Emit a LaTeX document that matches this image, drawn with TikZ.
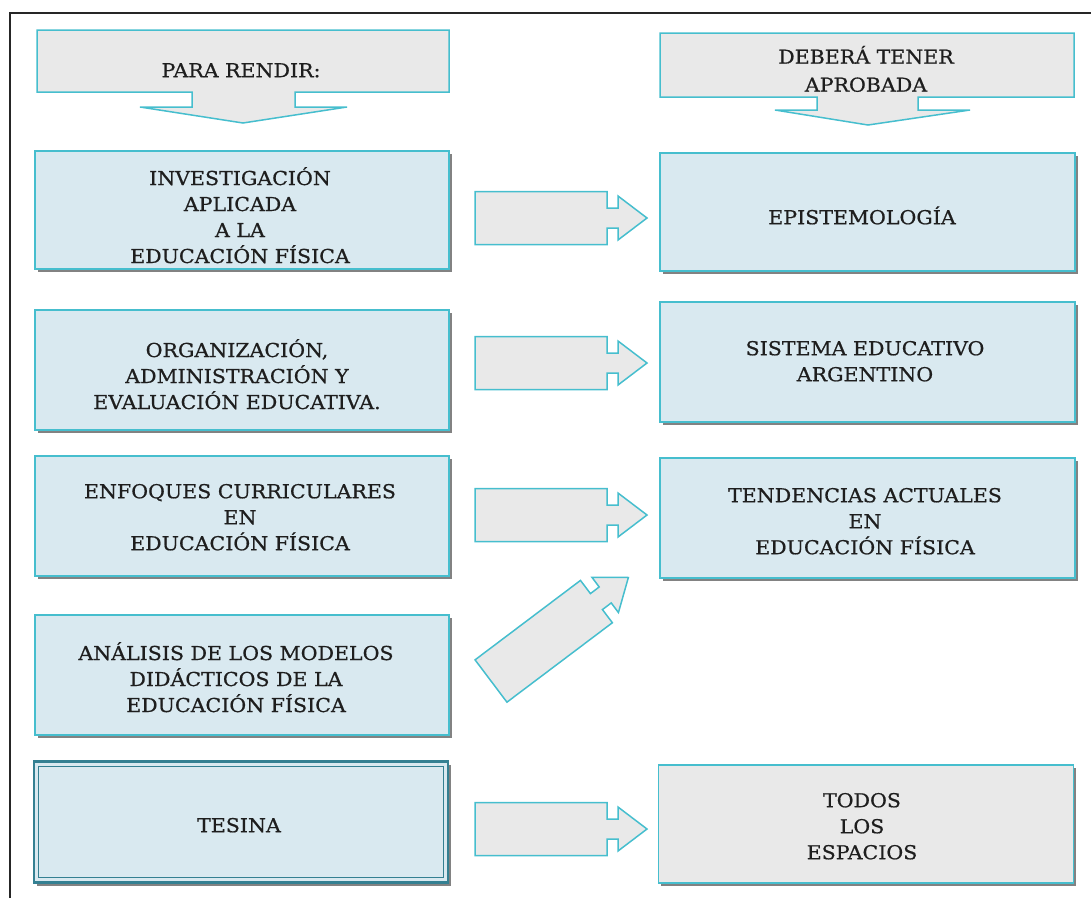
\documentclass[tikz,border=0pt]{standalone}
\usepackage{fontspec}
\setmainfont{DejaVu Serif}[FakeStretch=1.07,FakeBold=0.7]
\usetikzlibrary{shadows}
\definecolor{edge}{RGB}{70,190,206}
\definecolor{bluefill}{RGB}{217,233,240}
\definecolor{grayfill}{RGB}{233,233,233}
\definecolor{shade}{RGB}{130,130,130}
\definecolor{ink}{RGB}{30,30,30}
\definecolor{tesedge}{RGB}{52,128,146}
\newcommand\diagfont{\fontsize{19.2}{26}\selectfont}
\begin{document}
\begin{tikzpicture}[x=1pt,y=-1pt,
  txt/.style={align=center,font=\diagfont,text=ink,inner sep=0pt,
    execute at begin node=\strut, execute at end node=\strut},
  boxbase/.style={draw=edge, line width=1.6pt, minimum height=118pt, inner sep=0pt,
    general shadow={fill=shade, shadow xshift=2.5pt, shadow yshift=-3pt}},
  leftbox/.style={boxbase, fill=bluefill, minimum width=414pt},
  rightbox/.style={boxbase, fill=bluefill, minimum width=415pt},
  graybox/.style={boxbase, fill=grayfill, minimum width=415pt},
  tesbox/.style={boxbase, draw=tesedge, line width=2.6pt, fill=bluefill, minimum width=414pt, minimum height=121pt},
  shapeline/.style={draw=edge, line width=1.5pt, fill=grayfill, line join=miter},
  blockarrow/.pic={\path[shapeline] (0,-26.5) -- (132,-26.5) -- (132,-10) -- (143,-10) -- (143,-22)
      -- (172,0) -- (143,22) -- (143,10) -- (132,10) -- (132,26.5) -- (0,26.5) -- cycle;}
]
\useasboundingbox (0,0) rectangle (1091,898);
% frame
\draw[line width=1.6pt, black!85] (10,898) -- (10,13) -- (1091,13);

% banners
\path[shapeline] (37,30) -- (449,30) -- (449,92) -- (295,92) -- (295,107) -- (347,107)
  -- (243,123) -- (140,107) -- (192,107) -- (192,92) -- (37,92) -- cycle;
\node[txt] (hL) at (241,72) {PARA RENDIR:};
\path[shapeline] (660,33) -- (1074,33) -- (1074,97) -- (918,97) -- (918,110) -- (970,110)
  -- (868,125) -- (775,110) -- (817,110) -- (817,97) -- (660,97) -- cycle;
\node[txt, font=\fontsize{19.2}{28}\selectfont] (hR) at (866,73) {DEBERÁ TENER\\APROBADA};

% left column
\node[leftbox] (l1) at (242,210) {};
\node[txt] (l1t) at (240,219) {INVESTIGACIÓN\\APLICADA\\A LA\\EDUCACIÓN FÍSICA};
\node[leftbox, minimum height=120pt] (l2) at (242,370) {};
\node[txt] (l2t) at (237,378) {ORGANIZACIÓN,\\ADMINISTRACIÓN Y\\EVALUACIÓN EDUCATIVA.};
\node[leftbox, minimum height=120pt] (l3) at (242,516) {};
\node[txt] (l3t) at (240,521) {ENFOQUES CURRICULARES\\EN\\EDUCACIÓN FÍSICA};
\node[leftbox, minimum height=120pt] (l4) at (242,675) {};
\node[txt] (l4t) at (236,681) {ANÁLISIS DE LOS MODELOS\\DIDÁCTICOS DE LA\\EDUCACIÓN FÍSICA};
\node[tesbox] (l5) at (241,822) {};
\draw[tesedge, line width=1.3pt] ([shift={(6pt,6pt)}]l5.south west) rectangle ([shift={(-6pt,-6pt)}]l5.north east);
\node[txt] (l5t) at (239,827) {TESINA};

% right column
\node[rightbox] (r1) at (867.5,212) {};
\node[txt] (r1t) at (862,219) {EPISTEMOLOGÍA};
\node[rightbox, minimum height=120pt] (r2) at (867.5,362) {};
\node[txt] (r2t) at (865,365) {SISTEMA EDUCATIVO\\ARGENTINO};
\node[rightbox, minimum height=120pt] (r3) at (867.5,518) {};
\node[txt] (r3t) at (865,525) {TENDENCIAS ACTUALES\\EN\\EDUCACIÓN FÍSICA};
\node[graybox] (r4) at (866,824) {};
\node[txt] (r4t) at (862,830) {TODOS\\LOS\\ESPACIOS};

% block arrows
\pic at (475,218) {blockarrow};
\pic at (475,363) {blockarrow};
\pic at (475,515) {blockarrow};
\pic at (475,829) {blockarrow};
\pic[rotate=37] at (491,681) {blockarrow};
\end{tikzpicture}
\end{document}
